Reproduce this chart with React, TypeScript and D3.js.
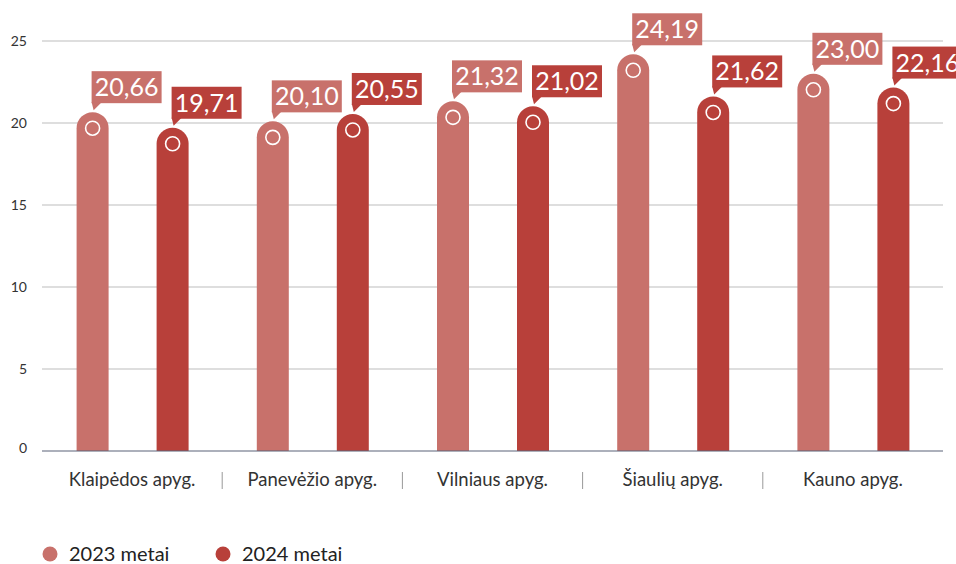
import React from "react";
import * as d3 from "d3";

const categories = ["Klaipėdos apyg.", "Panevėžio apyg.", "Vilniaus apyg.", "Šiaulių apyg.", "Kauno apyg."];
const series2023 = [20.66, 20.1, 21.32, 24.19, 23.0];
const series2024 = [19.71, 20.55, 21.02, 21.62, 22.16];
const seriesNames = ["2023 metai", "2024 metai"];
const yTicks = [0, 5, 10, 15, 20, 25];

const COLORS = ["#c8716b", "#b8403a"];
const W = 956;
const H = 564;
const FONT = "Lato, 'Open Sans', sans-serif";

export default function App() {
  const x = d3.scaleBand<string>().domain(categories).range([42, 943]);
  const y = d3.scaleLinear().domain([0, 25]).range([451, 41]);
  const barW = 32;
  const offsets = [-39.5, 40.5];
  const fmt = (v: number) => v.toFixed(2).replace(".", ",");
  const series = [series2023, series2024];

  return (
    <svg width={W} height={H} style={{ position: "fixed", left: 0, top: 0, background: "#fff" }} fontFamily={FONT}>
      {yTicks.map((t) => (
        <g key={t}>
          {t > 0 && <line x1={42} x2={943} y1={y(t)} y2={y(t)} stroke="#bdbdbd" strokeWidth={1} />}
          <text x={27} y={t === 0 ? y(t) - 3 : y(t)} dy="0.35em" textAnchor="end" fontSize={14} fill="#333">{t}</text>
        </g>
      ))}
      {categories.map((c, i) =>
        series.map((s, si) => {
          const cx = (x(c) as number) + x.bandwidth() / 2 + offsets[si];
          const v = s[i];
          const top = y(v);
          const r = barW / 2;
          const x0 = cx - r;
          const path = `M${x0},${y(0)} L${x0},${top + r} A${r},${r} 0 0 1 ${x0 + barW},${top + r} L${x0 + barW},${y(0)} Z`;
          const label = fmt(v);
          const boxW = 70;
          const boxH = 32;
          const bx = cx - 1;
          const bBottom = top - 9;
          return (
            <g key={c + si}>
              <path d={path} fill={COLORS[si]} />
              <circle cx={cx} cy={top + r} r={7} fill="none" stroke="#fff" strokeWidth={1.6} />
              <rect x={bx} y={bBottom - boxH} width={boxW} height={boxH} fill={COLORS[si]} />
              <path d={`M${bx},${bBottom - 1} L${bx + 10},${bBottom - 1} L${bx + 2},${top - 2} Z`} fill={COLORS[si]} />
              <text x={bx + boxW / 2} y={bBottom - boxH / 2} dy="0.36em" textAnchor="middle" fontSize={25} fill="#fff">{label}</text>
            </g>
          );
        })
      )}
      <line x1={42} x2={943} y1={y(0)} y2={y(0)} stroke="#5a6378" strokeWidth={1.2} />
      {categories.map((c, i) => (
        <g key={c}>
          <text x={(x(c) as number) + x.bandwidth() / 2} y={480} dy="0.35em" textAnchor="middle" fontSize={18.5} fill="#333">{c}</text>
          {i > 0 && <line x1={x(c) as number} x2={x(c) as number} y1={472} y2={489} stroke="#999" strokeWidth={1} />}
        </g>
      ))}
      {seriesNames.map((n, i) => (
        <g key={n} transform={`translate(${50 + i * 173},554)`}>
          <circle cx={0} cy={0} r={7.5} fill={COLORS[i]} />
          <text x={19} y={0} dy="0.35em" fontSize={20} fill="#222">{n}</text>
        </g>
      ))}
    </svg>
  );
}
